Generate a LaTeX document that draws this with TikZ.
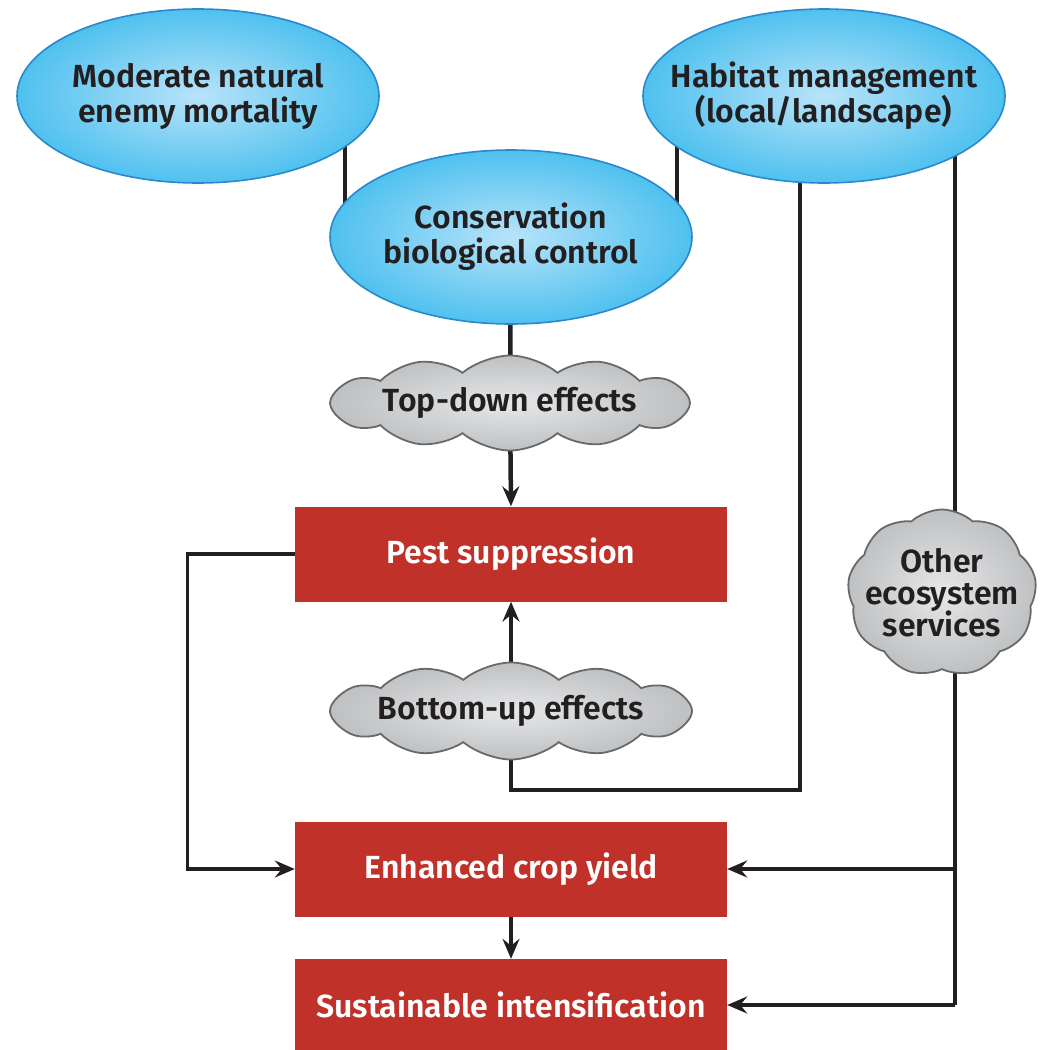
\documentclass[tikz,border=0pt]{standalone}
\usepackage{fontspec}
\setmainfont{Fira Sans}[UprightFont=* SemiBold, BoldFont=* Bold]
\usetikzlibrary{shapes.geometric,shapes.symbols,arrows.meta,calc}
\definecolor{ellin}{HTML}{B8E3F9}
\definecolor{ellout}{HTML}{4FC1EF}
\definecolor{ellborder}{HTML}{2B88CC}
\definecolor{cloudin}{HTML}{E6E7E8}
\definecolor{cloudout}{HTML}{BEC0C2}
\definecolor{cloudborder}{HTML}{68696B}
\definecolor{boxred}{HTML}{C0312A}
\definecolor{txt}{HTML}{231F20}
\definecolor{linecol}{HTML}{231F20}
\pgfdeclarelayer{background}
\pgfsetlayers{background,main}
\begin{document}
\begin{tikzpicture}[x=1pt,y=-1pt,
  every node/.style={font=\fontsize{32}{35}\selectfont, align=center, inner sep=0pt},
  ell/.style={ellipse, draw=ellborder, line width=1.6pt, inner color=ellin, outer color=ellout,
    inner xsep=-40pt, inner ysep=-10pt,
    minimum width=362pt, minimum height=174pt, text=txt},
  cloudy/.style={cloud, draw=cloudborder, line width=1.8pt, inner color=cloudin, outer color=cloudout,
    text=txt, cloud ignores aspect, inner xsep=-60pt, inner ysep=-20pt},
  redbox/.style={rectangle, fill=boxred, minimum width=432pt, minimum height=95pt, text=white},
  conn/.style={line width=3.2pt, draw=linecol},
  mainconn/.style={line width=4.5pt, draw=linecol},
  tip/.style={-{Stealth[length=20pt,width=17pt,inset=7pt]}},
]
\useasboundingbox (0,0) rectangle (1041,1050);

% ellipses
\node[ell] (mod) at (198,96) {Moderate natural\\enemy mortality};
\node[ell] (hab) at (824,96) {Habitat management\\(local/landscape)};
\node[ell] (cons) at (511,237) {Conservation\\biological control};

% clouds
\node[cloudy, cloud puffs=12, cloud puff arc=80, minimum width=360pt, minimum height=95pt] (td) at (510,403) {Top-down effects};
\node[cloudy, cloud puffs=12, cloud puff arc=80, minimum width=362pt, minimum height=97pt] (bu) at (511,711) {Bottom-up effects};
\node[cloudy, cloud puffs=9, cloud puff arc=85, minimum width=189pt, minimum height=167pt, inner xsep=-30pt, inner ysep=-30pt] (oes) at (942,593) {Other\\[-3pt]ecosystem\\[-3pt]services};

% red boxes
\node[redbox] (pest) at (511,554) {Pest suppression};
\node[redbox] (yield) at (511,869) {Enhanced crop yield};
\node[redbox, minimum height=92pt] (sust) at (511,1005) {Sustainable intensification};

% junction points
\coordinate (bend) at (800,790);
\coordinate (rc) at (sust.east -| 955,0);

\begin{pgfonlayer}{background}
  \draw[conn] (mod.center -| 345,0) -- (cons.center -| 345,0);
  \draw[conn] (hab.center -| 677,0) -- (cons.center -| 677,0);
  \draw[mainconn] (cons.center) -- (td.center);
  \draw[mainconn, tip] (td.center) -- (pest.north);
  \draw[mainconn, tip] (bu.center) -- (pest.south);
  \draw[conn] (bu.center) |- (bend) -- (bend |- hab.center);
  \draw[conn] (hab.center -| rc) -- (rc);
  \draw[conn, tip] (rc |- yield.east) -- (yield.east);
  \draw[conn, tip] (rc) -- (sust.east);
  \draw[conn, tip] (pest.west) -- ++(-107,0) |- (yield.west);
  \draw[mainconn, tip] (yield.south) -- (sust.north);
\end{pgfonlayer}
\end{tikzpicture}
\end{document}
